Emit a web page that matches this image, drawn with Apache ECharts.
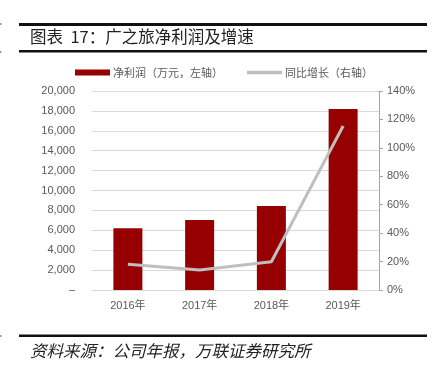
<!DOCTYPE html>
<html lang="zh">
<head>
<meta charset="UTF-8">
<title>广之旅净利润及增速</title>
<script src="https://cdn.jsdelivr.net/npm/echarts@6/dist/echarts.min.js"></script>
<style>
  html, body { margin: 0; padding: 0; background: #fff; }
</style>
</head>
<body>
<div id="main" style="width:434px;height:376px;"></div>
<script type="text/javascript">
// 数据
var years = ['2016年', '2017年', '2018年', '2019年'];
var netProfit = [6200, 7030, 8450, 18200];   // 万元，左轴
var growth = [18.1, 14.1, 19.9, 115.4];      // %，右轴
var titleText = '图表  17：广之旅净利润及增速';
var sourceText = '资料来源：公司年报，万联证券研究所';

var FONT = '"Liberation Sans", "Noto Sans CJK SC", sans-serif';
var CJK = '"Noto Sans CJK SC", sans-serif';
var myChart = echarts.init(document.getElementById('main'));

myChart.setOption({
    animation: false,
    textStyle: { fontFamily: FONT },
    graphic: [
        // 页边小标记
        { type: 'rect', shape: { x: 0, y: 23, width: 1.5, height: 2 }, style: { fill: '#999' } },
        { type: 'rect', shape: { x: 0, y: 51, width: 1.5, height: 2 }, style: { fill: '#999' } },
        { type: 'rect', shape: { x: 0, y: 335, width: 1.5, height: 2 }, style: { fill: '#999' } },
        // 标题上下横线
        { type: 'rect', shape: { x: 19, y: 23, width: 408, height: 3 }, style: { fill: '#111' } },
        { type: 'rect', shape: { x: 19, y: 50, width: 408, height: 2.5 }, style: { fill: '#111' } },
        { type: 'text', left: 30, top: 28, style: { text: titleText, fontSize: 16.5, fill: '#222', fontFamily: CJK } },
        // 底部来源
        { type: 'rect', shape: { x: 19, y: 334.5, width: 408, height: 2.5 }, style: { fill: '#111' } },
        { type: 'text', left: 30, top: 342, style: { text: sourceText, fontSize: 16.5, fontStyle: 'italic', fill: '#222', fontFamily: CJK } }
    ],
    legend: {
        top: 67,
        left: 75,
        padding: 0,
        itemWidth: 35,
        itemHeight: 6,
        itemGap: 24,
        textStyle: { fontSize: 11, color: '#595959', fontFamily: CJK, padding: [0, 0, 0, -2] },
        data: [
            { name: '净利润（万元，左轴）', icon: 'rect' },
            { name: '同比增长（右轴）', icon: 'path://M0,0H35V3.5H0Z' }
        ]
    },
    grid: { left: 92, right: 55, top: 91, bottom: 86 },
    xAxis: {
        type: 'category',
        data: years,
        axisLine: { lineStyle: { color: '#d9d9d9' } },
        axisTick: { show: false },
        axisLabel: { color: '#595959', fontSize: 11, margin: 10 }
    },
    yAxis: [
        {
            type: 'value',
            min: 0, max: 20000, interval: 2000,
            axisLine: { show: false },
            axisTick: { show: false },
            splitLine: { lineStyle: { color: '#d9d9d9', width: 1 } },
            axisLabel: {
                color: '#595959', fontSize: 11, margin: 17,
                formatter: function (v) {
                    if (v === 0) return '–';
                    return v.toLocaleString('en-US');
                }
            }
        },
        {
            type: 'value',
            min: 0, max: 140, interval: 20,
            axisLine: { show: true, lineStyle: { color: '#a6a6a6' } },
            axisTick: { show: true, length: 4, lineStyle: { color: '#a6a6a6' } },
            splitLine: { show: false },
            axisLabel: { color: '#595959', fontSize: 11, margin: 8, formatter: '{value}%' }
        }
    ],
    series: [
        {
            name: '净利润（万元，左轴）',
            type: 'bar',
            data: netProfit,
            barWidth: 29,
            itemStyle: { color: '#960000' }
        },
        {
            name: '同比增长（右轴）',
            type: 'line',
            yAxisIndex: 1,
            data: growth,
            symbol: 'none',
            lineStyle: { color: '#bfbfbf', width: 3 },
            itemStyle: { color: '#bfbfbf' }
        }
    ]
});
</script>
</body>
</html>
